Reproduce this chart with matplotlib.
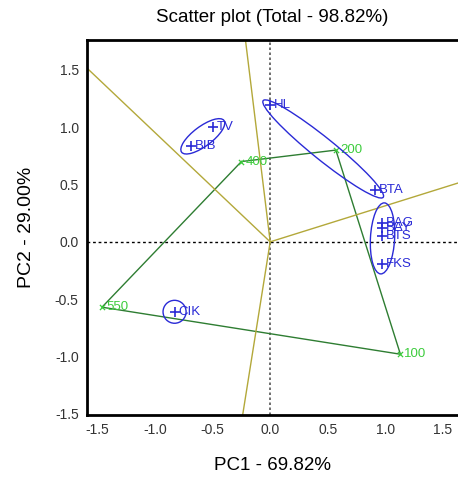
import numpy as np
import matplotlib.pyplot as plt
from matplotlib.patches import Ellipse

plt.rcParams['font.family'] = ['Liberation Sans', 'DejaVu Sans']

# sample scores
names = ['HL', 'TV', 'BIB', 'BTA', 'BAG', 'BAY', 'BTS', 'FKS', 'CIK']
pc1 = [0.0, -0.50, -0.69, 0.91, 0.97, 0.97, 0.97, 0.97, -0.83]
pc2 = [1.19, 1.00, 0.84, 0.45, 0.16, 0.12, 0.05, -0.19, -0.61]

# variable scores (polygon vertices, in drawing order)
var_names = ['400', '200', '100', '550']
var_pc1 = [-0.25, 0.57, 1.13, -1.46]
var_pc2 = [0.70, 0.80, -0.98, -0.57]

# group ellipses: centre x, centre y, width, height, angle
ell_x = [-0.585, 0.46, 0.975, -0.83]
ell_y = [0.92, 0.81, 0.03, -0.61]
ell_w = [0.46, 1.34, 0.21, 0.20]
ell_h = [0.17, 0.19, 0.62, 0.20]
ell_a = [37, -39, -3, 0]

BLUE = '#2a2ad6'
DGREEN = '#2e7d32'
LGREEN = '#3ccc3c'
OLIVE = '#b3a83a'

fig = plt.figure(figsize=(4.58, 4.80), dpi=100)
ax = fig.add_axes([87 / 458, 1 - 415 / 480, (458 - 87) / 458, (415 - 40) / 480])

ax.axhline(0, color='black', lw=1, ls=(0, (2, 2)), zorder=1)
ax.axvline(0, color='#555555', lw=1.2, ls=(0, (1.5, 1.5)), zorder=1)

# polygon
px = var_pc1 + [var_pc1[0]]
py = var_pc2 + [var_pc2[0]]
ax.plot(px, py, color=DGREEN, lw=1, zorder=2)

# rays from origin perpendicular to each polygon edge
for i in range(len(var_pc1)):
    p = np.array([var_pc1[i], var_pc2[i]])
    q = np.array([var_pc1[(i + 1) % 4], var_pc2[(i + 1) % 4]])
    d = q - p
    t = -p.dot(d) / d.dot(d)
    foot = p + t * d
    end = foot / np.linalg.norm(foot) * 5
    ax.plot([0, end[0]], [0, end[1]], color=OLIVE, lw=1, zorder=2)

ax.scatter(var_pc1, var_pc2, marker='x', color=LGREEN, s=14, lw=0.9, zorder=3)
for x, y, n in zip(var_pc1, var_pc2, var_names):
    ax.text(x + 0.035, y, n, color=LGREEN, fontsize=9.5, va='center', ha='left', zorder=3)

for x, y, w, h, a in zip(ell_x, ell_y, ell_w, ell_h, ell_a):
    ax.add_patch(Ellipse((x, y), w, h, angle=a, fill=False, ec=BLUE, lw=1, zorder=4))

ax.scatter(pc1, pc2, marker='+', color=BLUE, s=60, lw=1.2, zorder=5)
for x, y, n in zip(pc1, pc2, names):
    ax.text(x + 0.035, y, n, color=BLUE, fontsize=9.5, va='center', ha='left', zorder=5)

ax.set_xlim(-1.59, 1.63)
ax.set_ylim(-1.51, 1.76)
ticks = [-1.5, -1.0, -0.5, 0.0, 0.5, 1.0, 1.5]
ax.set_xticks(ticks)
ax.set_yticks(ticks)
ax.set_xticklabels(['%.1f' % t for t in ticks])
ax.set_yticklabels(['%.1f' % t for t in ticks])
ax.tick_params(length=0, labelsize=10, labelcolor='#333333', pad=6)
for s in ['left', 'bottom', 'top']:
    ax.spines[s].set_linewidth(2)
ax.spines['right'].set_visible(False)

ax.set_title('Scatter plot (Total - 98.82%)', fontsize=13.5, pad=13)
ax.set_xlabel('PC1 - 69.82%', fontsize=13.5, labelpad=14)
ax.set_ylabel('PC2 - 29.00%', fontsize=14, labelpad=14)

fig.savefig('out.png', dpi=100)
